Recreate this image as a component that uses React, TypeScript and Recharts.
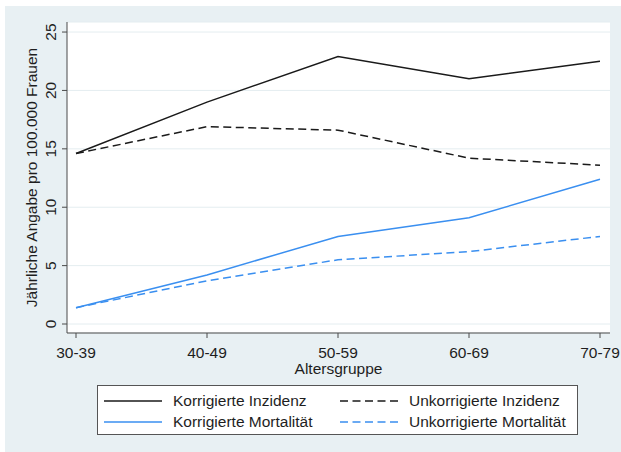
import { LineChart, Line, XAxis, YAxis, CartesianGrid, Legend, Label } from "recharts";

const ageGroups = ["30-39", "40-49", "50-59", "60-69", "70-79"];
const korrInzidenz = [14.6, 19.0, 22.9, 21.0, 22.5];
const unkorrInzidenz = [14.6, 16.9, 16.6, 14.2, 13.6];
const korrMortalitaet = [1.4, 4.2, 7.5, 9.1, 12.4];
const unkorrMortalitaet = [1.4, 3.7, 5.5, 6.2, 7.5];
const yTicks = [0, 5, 10, 15, 20, 25];

const data = ageGroups.map((g, i) => ({
  gruppe: g,
  korrInz: korrInzidenz[i],
  unkorrInz: unkorrInzidenz[i],
  korrMort: korrMortalitaet[i],
  unkorrMort: unkorrMortalitaet[i],
}));

const BLACK = "#1a1a1a";
const BLUE = "#3a8ff0";
const DASH = "8 4.5";
const FONT = "'Liberation Sans', Arial, sans-serif";
const TEXT = "#1e1e1e";
const AXIS = "#4a4a4a";

const series = [
  { key: "korrInz", name: "Korrigierte Inzidenz", color: BLACK, dash: undefined },
  { key: "unkorrInz", name: "Unkorrigierte Inzidenz", color: BLACK, dash: DASH },
  { key: "korrMort", name: "Korrigierte Mortalität", color: BLUE, dash: undefined },
  { key: "unkorrMort", name: "Unkorrigierte Mortalität", color: BLUE, dash: DASH },
];

function YTick(props: any) {
  const { x, y, payload } = props;
  const bx = x - 4;
  return (
    <text
      x={bx}
      y={y}
      transform={`rotate(-90 ${bx} ${y})`}
      textAnchor="middle"
      fontSize={15.5}
      fontFamily={FONT}
      fill={TEXT}
    >
      {payload.value}
    </text>
  );
}

function LegendBox() {
  const item = (s: (typeof series)[number], left: number, top: number) => (
    <div key={s.key} style={{ position: "absolute", left, top, height: 20, display: "flex", alignItems: "center" }}>
      <svg width={58} height={4} style={{ display: "block" }}>
        <line x1={0} y1={2} x2={58} y2={2} stroke={s.color} strokeWidth={1.5} strokeDasharray={s.dash} />
      </svg>
      <span style={{ marginLeft: 11, fontSize: 15.5, fontFamily: FONT, color: TEXT, whiteSpace: "nowrap" }}>{s.name}</span>
    </div>
  );
  return (
    <div
      style={{
        position: "relative",
        width: 479,
        height: 48,
        background: "#fff",
        border: "1px solid #555",
      }}
    >
      {item(series[0], 6, 5)}
      {item(series[1], 242, 5)}
      {item(series[2], 6, 26)}
      {item(series[3], 242, 26)}
    </div>
  );
}

export default function App() {
  return (
    <div style={{ position: "absolute", left: 0, top: 0, width: 621, height: 452, background: "#fff" }}>
      <div style={{ position: "absolute", left: 5, top: 6, width: 616, height: 446, background: "#e8f0f3" }} />
      <div style={{ position: "absolute", left: 0, top: 0 }}>
        <LineChart width={621} height={452} data={data} margin={{ top: 22, right: 11, left: 0, bottom: 0 }}>
          <CartesianGrid vertical={false} stroke="#e4edf0" fill="#ffffff" />
          <XAxis
            dataKey="gruppe"
            height={119}
            padding={{ left: 9, right: 10 }}
            tickSize={5}
            tickMargin={9}
            stroke={AXIS}
            tick={{ fontSize: 15.5, fontFamily: FONT, fill: TEXT }}
            interval={0}
          >
            <Label
              content={(p: any) => {
                const vb = p.viewBox;
                return (
                  <text x={vb.x + vb.width / 2} y={vb.y + 41} textAnchor="middle" fontSize={15.5} fontFamily={FONT} fill={TEXT}>
                    Altersgruppe
                  </text>
                );
              }}
            />
          </XAxis>
          <YAxis
            width={67}
            domain={[-0.77, 25.86]}
            ticks={yTicks}
            tickSize={5}
            tickMargin={2}
            stroke={AXIS}
            tick={<YTick />}
            allowDataOverflow
          >
            <Label
              content={(p: any) => {
                const vb = p.viewBox;
                const x = vb.x + 37;
                const y = vb.y + vb.height / 2;
                return (
                  <text
                    x={x}
                    y={y}
                    transform={`rotate(-90 ${x} ${y})`}
                    textAnchor="middle"
                    fontSize={15.5}
                    fontFamily={FONT}
                    fill={TEXT}
                  >
                    Jährliche Angabe pro 100.000 Frauen
                  </text>
                );
              }}
            />
          </YAxis>
          {series.map((s) => (
            <Line
              key={s.key}
              type="linear"
              dataKey={s.key}
              name={s.name}
              stroke={s.color}
              strokeWidth={1.5}
              strokeDasharray={s.dash}
              dot={false}
              activeDot={false}
              isAnimationActive={false}
            />
          ))}
          <Legend
            layout="horizontal"
            verticalAlign="middle"
            align="center"
            wrapperStyle={{ left: 97, top: 385, width: 481, height: 50 }}
            content={() => <LegendBox />}
          />
        </LineChart>
      </div>
    </div>
  );
}
